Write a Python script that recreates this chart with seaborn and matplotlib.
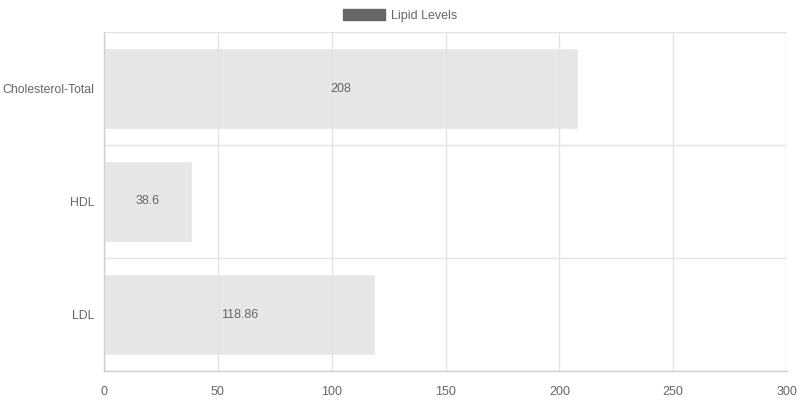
import matplotlib
matplotlib.use("Agg")
import matplotlib.pyplot as plt
import matplotlib.patches as mpatches
import numpy as np
import pandas as pd
import seaborn as sns

categories = ["Cholesterol-Total", "HDL", "LDL"]
values = [208, 38.6, 118.86]
value_labels = ["208", "38.6", "118.86"]
x_ticks = [0, 50, 100, 150, 200, 250, 300]
series_name = "Lipid Levels"

sns.set_style("white")
plt.rcParams["font.family"] = ["Liberation Sans", "DejaVu Sans"]

grid_col = "#e3e3e3"
axis_col = "#cfcfcf"
text_col = "#666666"

df = pd.DataFrame({"category": categories, "value": values})

fig = plt.figure(figsize=(8, 4), dpi=100)
ax = fig.add_axes([0.13, 0.0725, 0.98375 - 0.13, 0.92 - 0.0725])

sns.barplot(data=df, x="value", y="category", orient="h", color="#e6e6e6",
            saturation=1, width=0.72, ax=ax, zorder=1)

ax.set_xlim(0, 300)
ax.set_ylim(2.5, -0.5)
ax.set_xticks(x_ticks)
ax.set_xticklabels([str(t) for t in x_ticks])
ax.set_yticks(range(len(categories)))
ax.set_yticklabels(categories)
ax.set_yticks([-0.5, 0.5, 1.5, 2.5], minor=True)

ax.set_xlabel("")
ax.set_ylabel("")

# grid drawn over the bars
ax.set_axisbelow(False)
ax.xaxis.grid(True, color=grid_col, linewidth=1, zorder=2)
ax.yaxis.grid(True, which="minor", color=grid_col, linewidth=1, zorder=2)
ax.yaxis.grid(False, which="major")

ax.tick_params(axis="x", length=7, width=1, color=grid_col, labelcolor=text_col,
               labelsize=9, pad=4)
ax.tick_params(axis="y", which="major", length=0, labelcolor=text_col,
               labelsize=8.8, pad=7)
ax.tick_params(axis="y", which="minor", length=7, width=1, color=grid_col)

for s in ["top", "right"]:
    ax.spines[s].set_visible(False)
for s in ["left", "bottom"]:
    ax.spines[s].set_color(axis_col)
    ax.spines[s].set_linewidth(1)
    ax.spines[s].set_zorder(3)

for i, (v, lab) in enumerate(zip(values, value_labels)):
    ax.text(v / 2, i, lab, ha="center", va="center", color=text_col,
            fontsize=9, zorder=5)

handle = mpatches.Patch(facecolor="#666666", edgecolor="#666666", label=series_name)
fig.legend(handles=[handle], loc="center", bbox_to_anchor=(0.5, 0.962),
           frameon=False, fontsize=9, labelcolor=text_col, handlelength=3.4,
           handleheight=1.0, handletextpad=0.5)

fig.savefig("out.png", dpi=100)
